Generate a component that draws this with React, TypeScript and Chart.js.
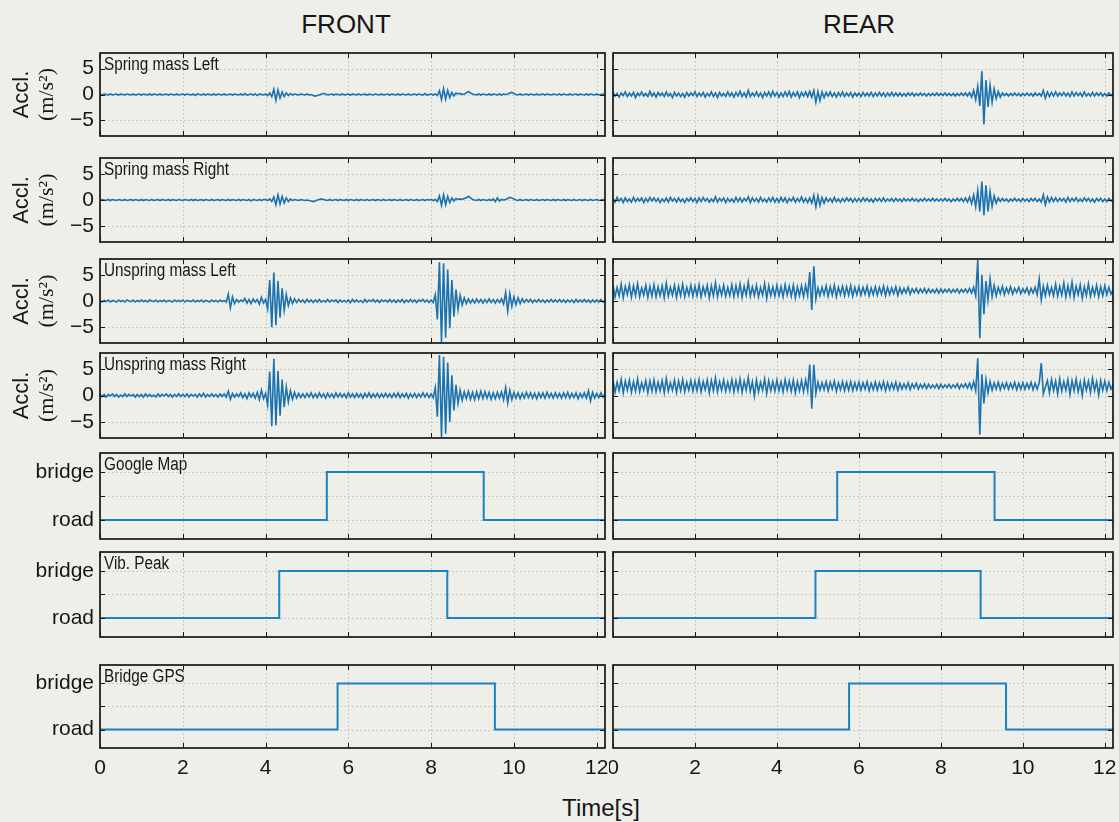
import React, { useEffect, useRef } from 'react';
import { Chart, registerables } from 'chart.js';

Chart.register(...registerables);

// ---------------- data ----------------
const SAMPLE_DT = 0.05; // s, sampling step of the acceleration traces
const X_MAX = 12.2;
const X_TICKS = [0, 2, 4, 6, 8, 10, 12];
const ACCEL_TICKS = [-5, 0, 5];
const STATE_TICKS = [0, 0.5, 1];
const STATE_NAMES = ['road', 'bridge'];

const FRONT_SPRING_LEFT = [
  0.1,-0.1,0.1,0,-0.1,0.1,-0.1,0,0.1,-0.1,0.1,0,-0.1,0.1,0,-0.1,0.1,-0.1,0,0.1,
  -0.1,0.1,0,-0.1,0.1,-0.1,0.1,0,-0.1,0.1,-0.1,0,0.1,-0.1,0.1,0,-0.1,0.1,-0.1,0,
  0.1,-0.1,0.1,0,-0.1,0.1,-0.2,0.1,0,-0.1,0.1,-0.1,0.1,0,-0.1,0.1,-0.1,0.1,0,-0.1,
  0.1,-0.1,0,0.1,-0.1,0.1,0,-0.1,0.1,-0.1,0.2,-0.1,0,0.1,-0.1,0.1,-0.2,0.1,0,-0.1,
  0.1,-0.2,0.3,-0.4,1.0,-1.1,0.9,-0.7,0.5,-0.4,0.3,-0.2,0.2,-0.1,0.1,0,-0.1,0.1,0,-0.1,
  0.1,-0.1,0,-0.2,-0.3,-0.2,-0.1,0.1,0.2,0.1,-0.1,0,0.1,-0.1,0.1,0,-0.1,0.1,-0.1,0,
  0.1,-0.1,0.1,0,-0.1,0.1,-0.1,0,0.1,-0.1,0.1,0,-0.1,0.1,0,-0.1,0.1,-0.1,0,0.1,
  -0.1,0.1,0,-0.1,0.1,-0.1,0.1,0,-0.1,0.1,-0.1,0,0.1,-0.1,0.1,0,-0.1,0.2,-0.1,0,
  0.1,-0.1,0.1,-0.2,0.7,-1.0,1.1,-0.9,0.8,-0.6,0.4,-0.3,0.3,0.1,0.2,0,0.1,0.3,0.6,0.3,
  0.1,0,-0.1,0.1,-0.1,0.1,0,-0.1,0.1,-0.1,0.1,0,-0.1,0.1,-0.1,0.1,0,0.1,0.3,0.4,
  0.2,0,-0.1,0.1,-0.1,0,0.1,-0.1,0.1,0,-0.1,0.1,-0.1,0,0.1,-0.1,0.1,0,-0.1,0.1,
  0,-0.1,0.1,-0.1,0.1,0,-0.1,0.1,-0.1,0,0.1,-0.1,0.1,0,-0.1,0.1,-0.1,0.1,0,-0.1,
  0.1,-0.1,0,0.1,0,
];

const FRONT_SPRING_RIGHT = [
  -0.1,0.1,0,-0.1,0.1,-0.1,0.1,0,-0.1,0.1,0,-0.1,0.1,-0.1,0,0.1,-0.1,0.1,0,-0.1,
  0.1,-0.1,0.1,0,-0.1,0.1,-0.1,0,0.1,-0.1,0.1,0,-0.1,0.1,-0.1,0.1,0,-0.1,0.1,0,
  -0.1,0.1,0,-0.1,0.1,-0.1,0.1,-0.1,0,0.1,-0.1,0.1,0,-0.1,0.1,-0.1,0,0.1,-0.1,0.1,
  0,-0.1,0.1,-0.1,0.1,0,-0.1,0.1,-0.1,0.1,0,-0.1,0.1,-0.2,0.1,0,-0.1,0.1,-0.1,0.1,
  0.1,-0.1,0.2,-0.3,0.6,-0.9,1.0,-0.8,0.7,-0.6,0.4,-0.3,0.2,-0.1,0.1,0,-0.1,0.1,0,-0.1,
  0,-0.1,-0.2,-0.3,-0.2,0,0.1,0.2,0.1,0,-0.1,0.1,-0.1,0,0.1,-0.1,0.1,0,-0.1,0.1,
  -0.1,0.1,0,-0.1,0.1,-0.1,0.1,0,-0.1,0.1,-0.1,0,0.1,-0.1,0.1,0,-0.1,0.1,-0.1,0,
  0.1,-0.1,0.1,0,-0.1,0.1,-0.1,0,0.1,-0.1,0.1,0,-0.1,0.1,-0.1,0,0.1,-0.1,0.1,0,
  0.1,-0.1,0.1,-0.3,0.8,-1.0,1.0,-0.9,0.7,-0.5,0.4,-0.2,0.3,0.1,0.2,0.1,0.3,0.4,0.7,0.4,
  0.1,0,-0.1,0.1,-0.1,0.1,0,-0.1,0.1,-0.1,0.2,-0.3,0.4,-0.2,0.1,0,0.1,0.3,0.5,0.4,
  0.2,0,-0.1,0.1,-0.1,0,0.1,-0.1,0.1,0,-0.1,0.1,-0.1,0,0.1,-0.1,0.1,0,-0.1,0.1,
  -0.1,0.1,0,-0.1,0.1,-0.1,0.1,0,-0.1,0.1,-0.1,0,0.1,-0.1,0.1,0,-0.1,0.1,-0.1,0,
  0.1,-0.1,0,0.1,0,
];

const FRONT_UNSPRING_LEFT = [
  0.2,-0.2,0.1,-0.1,0.2,-0.2,0.1,0,-0.2,0.2,-0.1,0.1,-0.2,0.2,0,-0.1,0.2,-0.2,0.1,-0.1,
  0.2,-0.1,0.1,-0.2,0.2,0,-0.1,0.2,-0.2,0.1,-0.1,0.2,-0.2,0.1,0,-0.2,0.2,-0.1,0.1,-0.1,
  0.2,-0.2,0.1,0,-0.1,0.2,-0.2,0.1,-0.1,0.2,-0.2,0.1,0,-0.2,0.2,-0.1,0.1,-0.2,0.2,-0.1,
  0.1,-0.2,1.3,-1.3,0.8,-0.5,0.3,-0.2,0.2,-0.1,0.5,-0.4,0.3,-0.5,0.4,-0.2,0.3,-0.6,0.7,-0.4,
  0.3,-1.5,4.0,-5.0,5.4,-4.6,3.8,-3.2,2.4,-1.8,1.2,-0.9,0.6,-0.5,0.4,-0.3,0.3,-0.2,0.2,-0.3,
  0.3,-0.2,0.2,-0.3,0.2,-0.2,0.3,-0.2,0.1,-0.2,0.3,-0.2,0.2,-0.1,0.2,-0.3,0.2,-0.2,0.1,-0.2,
  0.2,-0.3,0.3,-0.2,0.2,-0.2,0.1,-0.3,0.3,-0.2,0.2,-0.1,0.3,-0.2,0.2,-0.3,0.2,-0.1,0.2,-0.2,
  0.3,-0.2,0.2,-0.3,0.2,-0.2,0.3,-0.3,0.2,-0.2,0.3,-0.2,0.2,-0.3,0.2,-0.1,0.3,-0.2,0.2,-0.3,
  0.2,-0.3,1.2,-3.5,7.4,-7.8,7.2,-7.0,6.0,-5.2,4.0,-3.0,2.2,-1.6,1.1,-0.8,0.6,-0.5,0.4,-0.4,
  0.3,-0.4,0.4,-0.3,0.3,-0.4,0.3,-0.3,0.4,-0.3,0.3,-0.4,0.3,-0.3,0.4,-0.6,1.6,-1.9,1.4,-1.0,
  0.8,-0.7,0.6,-0.5,0.4,-0.3,0.3,-0.2,0.3,-0.3,0.2,-0.2,0.3,-0.2,0.2,-0.3,0.2,-0.2,0.3,-0.2,
  0.2,-0.2,0.3,-0.2,0.2,-0.3,0.2,-0.2,0.2,-0.3,0.3,-0.2,0.2,-0.2,0.3,-0.2,0.2,-0.3,0.2,-0.2,
  0.2,-0.2,0.3,-0.2,0.1,
];

const FRONT_UNSPRING_RIGHT = [
  0.3,-0.2,0.2,-0.3,0.2,-0.1,0.3,-0.2,0.2,-0.3,0.1,-0.2,0.3,-0.2,0.2,-0.1,0.2,-0.3,0.2,-0.2,
  0.2,-0.3,0.3,-0.2,0.2,-0.2,0.1,-0.3,0.3,-0.2,0.2,-0.1,0.3,-0.2,0.2,-0.3,0.2,-0.2,0.3,-0.2,
  0.2,-0.2,0.3,-0.3,0.2,-0.1,0.2,-0.3,0.3,-0.2,0.4,-0.3,0.2,-0.2,0.3,-0.2,0.2,-0.3,0.3,-0.2,
  0.3,-0.3,0.8,-0.7,0.4,-0.3,0.3,-0.2,0.5,-0.4,0.3,-0.6,0.5,-0.3,0.4,-0.5,0.6,-0.8,1.0,-0.6,
  0.4,-1.8,4.5,-5.8,6.9,-5.6,4.6,-3.8,3.0,-2.2,1.6,-1.2,0.9,-0.7,0.6,-0.5,0.4,-0.4,0.3,-0.4,
  0.4,-0.3,0.5,-0.4,0.3,-0.4,0.5,-0.3,0.3,-0.5,0.4,-0.3,0.3,-0.4,0.5,-0.3,0.4,-0.3,0.3,-0.4,
  0.5,-0.3,0.3,-0.4,0.4,-0.3,0.3,-0.5,0.4,-0.3,0.5,-0.4,0.3,-0.3,0.4,-0.4,0.3,-0.3,0.4,-0.3,
  0.3,-0.4,0.4,-0.3,0.5,-0.4,0.3,-0.3,0.4,-0.5,0.3,-0.3,0.4,-0.4,0.3,-0.3,0.5,-0.3,0.4,-0.4,
  0.3,-0.4,1.5,-4.0,7.6,-7.8,7.3,-7.2,6.2,-5.0,3.8,-2.8,2.0,-1.5,1.0,-0.9,0.7,-0.6,0.8,-0.7,
  0.6,-0.8,0.7,-0.6,0.8,-0.6,0.7,-0.5,0.6,-0.7,0.5,-0.6,0.6,-0.5,0.7,-0.8,1.5,-1.4,1.0,-0.8,
  0.6,-0.5,0.5,-0.6,0.4,-0.5,0.6,-0.4,0.5,-0.5,0.4,-0.6,0.5,-0.4,0.5,-0.5,0.6,-0.4,0.4,-0.5,
  0.5,-0.4,0.4,-0.5,0.5,-0.4,0.6,-0.5,0.4,-0.4,0.5,-0.6,0.4,-0.4,0.5,-0.5,0.9,-1.0,0.6,-0.5,
  0.4,-0.4,0.5,-0.3,0.3,
];

const REAR_SPRING_LEFT = [
  0.4,-0.3,0.2,-0.5,0.3,-0.2,0.5,-0.4,0.3,-0.3,0.4,-0.6,0.3,-0.2,0.5,-0.3,0.2,-0.4,0.6,-0.3,
  0.3,-0.5,0.4,-0.2,0.3,-0.4,0.5,-0.3,0.2,-0.6,0.4,-0.3,0.3,-0.4,0.2,-0.5,0.4,-0.3,0.3,-0.2,
  0.5,-0.4,0.3,-0.3,0.4,-0.5,0.2,-0.3,0.5,-0.4,0.3,-0.6,0.4,-0.3,0.2,-0.4,0.5,-0.3,0.3,-0.5,
  0.4,-0.3,0.6,-0.4,0.3,-0.5,0.8,-0.4,0.3,-0.3,0.5,-0.4,0.3,-0.6,0.4,-0.3,0.5,-0.4,0.6,-0.3,
  0.4,-0.5,0.3,-0.4,0.5,-0.3,0.6,-0.5,0.4,-0.3,0.5,-0.6,0.4,-0.3,0.5,-0.4,0.6,-0.5,0.8,-1.5,
  0.6,-1.2,0.5,-0.6,0.4,-0.3,0.5,-0.4,0.3,-0.5,0.4,-0.3,0.5,-0.4,0.3,-0.3,0.4,-0.5,0.3,-0.3,
  0.3,-0.4,0.4,-0.3,0.3,-0.3,0.4,-0.4,0.3,-0.3,0.4,-0.3,0.3,-0.4,0.3,-0.3,0.4,-0.3,0.3,-0.3,
  0.3,-0.3,0.2,-0.3,0.3,-0.2,0.3,-0.3,0.2,-0.2,0.3,-0.2,0.2,-0.3,0.2,-0.2,0.2,-0.2,0.3,-0.2,
  0.2,-0.2,0.3,-0.2,0.2,-0.2,0.2,-0.3,0.2,-0.2,0.3,-0.2,0.3,-0.3,0.4,-0.5,0.8,-1.0,1.6,-2.2,
  4.5,-5.8,2.8,-2.4,1.8,-1.5,1.1,-0.8,0.6,-0.5,0.3,-0.2,0.2,-0.3,0.2,-0.2,0.3,-0.2,0.2,-0.3,
  0.2,-0.2,0.3,-0.2,0.2,-0.3,0.3,-0.2,0.2,-0.3,0.8,-0.7,0.5,-0.4,0.4,-0.3,0.5,-0.3,0.3,-0.2,
  0.4,-0.3,0.3,-0.4,0.5,-0.3,0.4,-0.2,0.3,-0.4,0.5,-0.3,0.2,-0.3,0.4,-0.3,0.3,-0.2,0.3,-0.3,
  0.2,-0.3,0.3,-0.2,0.2,
];

const REAR_SPRING_RIGHT = [
  0.3,-0.4,0.5,-0.2,0.3,-0.5,0.4,-0.3,0.2,-0.4,0.5,-0.3,0.3,-0.2,0.4,-0.5,0.3,-0.3,0.5,-0.2,
  0.4,-0.3,0.3,-0.5,0.2,-0.3,0.4,-0.4,0.5,-0.2,0.3,-0.4,0.4,-0.3,0.2,-0.5,0.3,-0.2,0.4,-0.3,
  0.3,-0.5,0.4,-0.3,0.5,-0.2,0.3,-0.4,0.2,-0.3,0.6,-0.4,0.3,-0.2,0.4,-0.5,0.3,-0.3,0.2,-0.4,
  0.5,-0.3,0.4,-0.4,0.3,-0.2,0.6,-0.5,0.4,-0.3,0.3,-0.4,0.5,-0.3,0.2,-0.4,0.4,-0.3,0.5,-0.4,
  0.3,-0.4,0.5,-0.3,0.4,-0.5,0.3,-0.2,0.5,-0.4,0.3,-0.3,0.6,-0.4,0.3,-0.5,0.4,-0.6,0.9,-1.3,
  0.8,-1.0,0.5,-0.6,0.4,-0.3,0.3,-0.4,0.5,-0.3,0.2,-0.4,0.3,-0.3,0.4,-0.2,0.3,-0.4,0.3,-0.3,
  0.3,-0.3,0.4,-0.2,0.3,-0.3,0.2,-0.4,0.3,-0.2,0.3,-0.3,0.4,-0.3,0.2,-0.2,0.3,-0.3,0.3,-0.2,
  0.2,-0.3,0.3,-0.2,0.2,-0.2,0.3,-0.2,0.2,-0.3,0.2,-0.2,0.3,-0.2,0.2,-0.2,0.3,-0.2,0.2,-0.2,
  0.2,-0.2,0.3,-0.2,0.2,-0.3,0.2,-0.2,0.3,-0.2,0.3,-0.3,0.4,-0.4,0.6,-0.7,1.0,-1.3,1.8,-2.2,
  3.5,-2.9,2.8,-2.2,1.6,-1.2,0.8,-0.6,0.4,-0.3,0.3,-0.2,0.2,-0.3,0.2,-0.2,0.3,-0.2,0.2,-0.3,
  0.3,-0.2,0.2,-0.3,0.3,-0.2,0.3,-0.3,0.2,-0.4,1.0,-0.9,0.6,-0.4,0.5,-0.3,0.4,-0.3,0.3,-0.2,
  0.3,-0.4,0.5,-0.3,0.3,-0.2,0.4,-0.3,0.2,-0.3,0.4,-0.2,0.3,-0.3,0.2,-0.4,0.3,-0.2,0.3,-0.3,
  0.2,-0.3,0.3,-0.2,0.2,
];

const REAR_UNSPRING_LEFT = [
  3.0,0.8,2.6,1.0,3.2,0.6,2.8,1.2,3.1,0.7,2.9,1.0,3.3,0.8,2.5,1.1,3.0,0.7,2.8,0.9,
  3.1,0.8,2.7,1.0,2.9,0.6,3.4,0.9,2.6,1.1,3.0,0.7,2.8,1.0,3.2,0.8,2.6,1.1,3.0,0.9,
  2.8,1.0,3.1,0.8,2.7,1.2,3.0,0.6,2.9,1.0,3.5,0.8,2.7,1.1,3.0,0.9,2.6,1.0,3.1,0.8,
  2.9,1.0,3.2,0.7,2.8,1.1,3.6,0.9,2.7,1.0,3.0,0.8,2.6,1.1,3.3,0.5,2.9,1.0,2.7,0.9,
  3.0,1.0,2.7,0.8,3.1,1.1,2.8,0.9,3.0,0.6,2.7,1.0,2.9,0.8,3.0,1.0,5.5,-1.7,6.6,0.4,
  2.5,1.0,2.6,1.2,2.9,0.9,2.7,1.1,3.0,0.8,2.6,1.2,2.8,1.0,2.7,1.1,2.9,0.9,2.6,1.2,
  2.7,1.1,2.6,1.3,2.8,1.0,2.5,1.2,2.7,1.1,2.6,1.3,2.8,1.0,2.6,1.2,2.5,1.4,2.7,1.1,
  2.5,1.4,2.4,1.5,2.6,1.3,2.3,1.6,2.4,1.5,2.3,1.6,2.4,1.5,2.3,1.6,2.2,1.6,2.3,1.5,
  2.3,1.6,2.2,1.7,2.3,1.6,2.2,1.7,2.3,1.5,2.2,1.7,2.3,1.6,2.4,1.5,2.6,1.0,7.8,-7.1,
  5.0,-2.5,3.8,0.2,4.2,0.8,3.0,1.0,2.6,1.4,2.8,1.2,2.5,1.5,2.7,1.3,2.4,1.6,2.6,1.4,
  2.3,1.6,2.5,1.3,2.4,1.5,2.6,1.2,4.2,0.2,2.8,1.0,3.0,1.2,2.6,1.0,3.2,0.9,2.8,1.1,
  3.4,0.8,2.9,1.0,3.6,0.7,2.8,1.2,3.1,0.5,2.7,1.0,3.3,0.9,2.6,1.1,3.0,0.8,2.7,1.0,
  2.9,1.2,2.6,1.3,2.1,
];

const REAR_UNSPRING_RIGHT = [
  2.8,0.6,2.5,0.9,3.0,0.5,2.7,1.0,2.9,0.6,2.6,0.8,3.1,0.7,2.4,1.0,2.8,0.5,2.7,0.8,
  2.9,0.7,2.5,0.9,2.8,0.5,3.2,0.8,2.4,1.0,2.9,0.6,2.7,0.9,3.0,0.7,2.5,1.0,2.8,0.8,
  2.7,0.9,3.0,0.7,2.6,1.1,2.9,0.5,2.8,0.9,3.3,0.7,2.6,1.0,2.9,0.8,2.5,0.9,3.0,0.7,
  2.8,0.9,3.1,0.6,2.7,1.0,3.4,0.8,2.6,-0.1,2.9,0.7,2.5,1.0,3.1,0.4,2.8,0.9,2.6,0.8,
  2.9,0.9,2.6,0.7,3.0,1.0,2.7,0.8,2.9,0.5,2.6,0.9,2.8,0.7,2.9,0.9,5.8,-2.5,5.8,0.4,
  2.5,1.0,2.4,1.1,2.6,0.9,2.5,1.2,2.7,0.8,2.4,1.1,2.6,0.9,2.5,1.0,2.6,0.9,2.4,1.1,
  2.5,1.0,2.4,1.2,2.6,0.9,2.3,1.1,2.5,1.0,2.4,1.2,2.6,0.9,2.4,1.1,2.3,1.2,2.5,1.0,
  2.3,1.2,2.2,1.3,2.4,1.1,2.2,1.4,2.3,1.2,2.1,1.4,2.2,1.3,2.1,1.4,2.0,1.4,2.1,1.3,
  2.1,1.4,2.0,1.5,2.1,1.4,2.0,1.5,2.2,1.3,2.1,1.5,2.2,1.4,2.3,1.2,2.6,0.9,7.0,-7.4,
  4.0,-1.5,3.0,0.5,2.6,1.0,2.4,1.2,2.5,1.1,2.3,1.3,2.4,1.2,2.3,1.3,2.5,1.1,2.3,1.2,
  2.4,1.2,2.3,1.3,2.5,1.1,2.3,1.2,2.4,6.1,0.3,1.6,2.8,0.5,3.0,0.9,2.7,0.3,3.1,0.8,
  2.6,1.0,3.0,0.2,2.8,0.9,3.1,0.7,2.5,0.0,2.9,1.0,2.7,0.6,3.2,0.9,2.6,0.1,2.8,1.0,
  2.7,0.9,2.5,1.2,2.0,
];

// road (0) / bridge (1) state changes: times [s] and the state from that time on
const FRONT_GOOGLE_T = [0, 5.48, 9.27, X_MAX];
const FRONT_GOOGLE_S = [0, 1, 0, 0];
const FRONT_VIB_T = [0, 4.33, 8.39, X_MAX];
const FRONT_VIB_S = [0, 1, 0, 0];
const FRONT_GPS_T = [0, 5.74, 9.54, X_MAX];
const FRONT_GPS_S = [0, 1, 0, 0];
const REAR_GOOGLE_T = [0, 5.47, 9.31, X_MAX];
const REAR_GOOGLE_S = [0, 1, 0, 0];
const REAR_VIB_T = [0, 4.94, 8.97, X_MAX];
const REAR_VIB_S = [0, 1, 0, 0];
const REAR_GPS_T = [0, 5.76, 9.59, X_MAX];
const REAR_GPS_S = [0, 1, 0, 0];

const ROW_LABELS = ['Spring mass Left', 'Spring mass Right', 'Unspring mass Left', 'Unspring mass Right', 'Google Map', 'Vib. Peak', 'Bridge GPS'];

// ---------------- styling / layout ----------------
const PAPER = '#efefea';
const INK = '#161616';
const LINE_BLUE = '#1c82c2';
const TRACE_BLUE = '#1b72ad';
const SANS = '"Liberation Sans", Arial, sans-serif';
const SERIF = '"Liberation Serif", "Times New Roman", serif';

const ROWS = [
  { top: 53, bottom: 136 },
  { top: 158, bottom: 242 },
  { top: 259, bottom: 343 },
  { top: 353, bottom: 438 },
  { top: 453, bottom: 539 },
  { top: 552, bottom: 637 },
  { top: 665, bottom: 748 },
];
const COLS = [
  { canvasLeft: 0, canvasWidth: 612, plotLeft: 100, plotRight: 605, labels: true },
  { canvasLeft: 609, canvasWidth: 510, plotLeft: 613, plotRight: 1113, labels: false },
];

type Panel = {
  kind: 'accel' | 'state';
  label: string;
  row: number;
  col: number;
  values?: number[];
  times?: number[];
  states?: number[];
};

const PANELS: Panel[] = [
  { kind: 'accel', label: ROW_LABELS[0], row: 0, col: 0, values: FRONT_SPRING_LEFT },
  { kind: 'accel', label: ROW_LABELS[1], row: 1, col: 0, values: FRONT_SPRING_RIGHT },
  { kind: 'accel', label: ROW_LABELS[2], row: 2, col: 0, values: FRONT_UNSPRING_LEFT },
  { kind: 'accel', label: ROW_LABELS[3], row: 3, col: 0, values: FRONT_UNSPRING_RIGHT },
  { kind: 'state', label: ROW_LABELS[4], row: 4, col: 0, times: FRONT_GOOGLE_T, states: FRONT_GOOGLE_S },
  { kind: 'state', label: ROW_LABELS[5], row: 5, col: 0, times: FRONT_VIB_T, states: FRONT_VIB_S },
  { kind: 'state', label: ROW_LABELS[6], row: 6, col: 0, times: FRONT_GPS_T, states: FRONT_GPS_S },
  { kind: 'accel', label: '', row: 0, col: 1, values: REAR_SPRING_LEFT },
  { kind: 'accel', label: '', row: 1, col: 1, values: REAR_SPRING_RIGHT },
  { kind: 'accel', label: '', row: 2, col: 1, values: REAR_UNSPRING_LEFT },
  { kind: 'accel', label: '', row: 3, col: 1, values: REAR_UNSPRING_RIGHT },
  { kind: 'state', label: '', row: 4, col: 1, times: REAR_GOOGLE_T, states: REAR_GOOGLE_S },
  { kind: 'state', label: '', row: 5, col: 1, times: REAR_VIB_T, states: REAR_VIB_S },
  { kind: 'state', label: '', row: 6, col: 1, times: REAR_GPS_T, states: REAR_GPS_S },
];

const PAD_TOP = 12;

const framePlugin = {
  id: 'frame',
  beforeDatasetsDraw(chart: any) {
    const { ctx, chartArea: a, scales } = chart;
    ctx.save();
    ctx.strokeStyle = '#cbcbc6';
    ctx.lineWidth = 1;
    ctx.setLineDash([2, 2]);
    for (const t of scales.x.ticks) {
      const px = Math.round(scales.x.getPixelForValue(t.value)) + 0.5;
      if (px <= a.left + 2 || px >= a.right - 2) continue;
      ctx.beginPath(); ctx.moveTo(px, a.top); ctx.lineTo(px, a.bottom); ctx.stroke();
    }
    for (const t of scales.y.ticks) {
      const py = Math.round(scales.y.getPixelForValue(t.value)) + 0.5;
      ctx.beginPath(); ctx.moveTo(a.left, py); ctx.lineTo(a.right, py); ctx.stroke();
    }
    ctx.restore();
  },
  afterDatasetsDraw(chart: any, _a: any, opts: any) {
    const { ctx, chartArea: a, scales } = chart;
    ctx.save();
    ctx.strokeStyle = INK;
    ctx.lineWidth = 1;
    const tl = 5;
    for (const t of scales.x.ticks) {
      const px = Math.round(scales.x.getPixelForValue(t.value)) + 0.5;
      ctx.beginPath();
      ctx.moveTo(px, a.bottom); ctx.lineTo(px, a.bottom - tl);
      ctx.moveTo(px, a.top); ctx.lineTo(px, a.top + tl);
      ctx.stroke();
    }
    for (const t of scales.y.ticks) {
      const py = Math.round(scales.y.getPixelForValue(t.value)) + 0.5;
      ctx.beginPath();
      ctx.moveTo(a.left, py); ctx.lineTo(a.left + tl, py);
      ctx.moveTo(a.right, py); ctx.lineTo(a.right - tl, py);
      ctx.stroke();
    }
    ctx.lineWidth = 1.7;
    ctx.strokeRect(a.left, a.top, a.right - a.left, a.bottom - a.top);
    if (opts.label) {
      ctx.save();
      ctx.fillStyle = INK;
      ctx.font = `18px ${SANS}`;
      ctx.textBaseline = 'top';
      ctx.textAlign = 'left';
      ctx.translate(a.left + 4, a.top + 3);
      ctx.scale(0.85, 1);
      ctx.fillText(opts.label, 0, 0);
      ctx.restore();
    }
    if (opts.yTitle) {
      const cy = (a.top + a.bottom) / 2;
      ctx.fillStyle = INK;
      ctx.textAlign = 'center';
      ctx.textBaseline = 'middle';
      ctx.save();
      ctx.translate(22, cy);
      ctx.rotate(-Math.PI / 2);
      ctx.font = `22px ${SANS}`;
      ctx.fillText(opts.yTitle[0], 0, 0);
      ctx.restore();
      ctx.save();
      ctx.translate(47, cy);
      ctx.rotate(-Math.PI / 2);
      ctx.font = `22px ${SERIF}`;
      ctx.fillText(opts.yTitle[1], 0, 0);
      ctx.restore();
    }
    ctx.restore();
  },
};

function PanelChart({ p }: { p: Panel }) {
  const ref = useRef<HTMLCanvasElement>(null);
  const row = ROWS[p.row];
  const col = COLS[p.col];
  const isBottom = p.row === ROWS.length - 1;
  const xAxisH = isBottom ? 40 : 10;
  const canvasTop = row.top - PAD_TOP;
  const canvasH = row.bottom - row.top + PAD_TOP + xAxisH;
  const yAxisW = col.plotLeft - col.canvasLeft;
  const padRight = col.canvasLeft + col.canvasWidth - col.plotRight;

  useEffect(() => {
    if (!ref.current) return;
    let data: { x: number; y: number }[];
    if (p.kind === 'accel') {
      data = (p.values as number[]).map((v, i) => ({ x: i * SAMPLE_DT, y: v }));
    } else {
      data = (p.times as number[]).map((t, i) => ({ x: t, y: (p.states as number[])[i] }));
    }
    const yTicks = p.kind === 'accel' ? ACCEL_TICKS : STATE_TICKS;
    const chart = new Chart(ref.current, {
      type: 'line',
      data: {
        datasets: [
          {
            data,
            borderColor: p.kind === 'accel' ? TRACE_BLUE : LINE_BLUE,
            borderWidth: p.kind === 'accel' ? 1.6 : 2,
            pointRadius: 0,
            tension: 0,
            stepped: p.kind === 'state' ? true : false,
            fill: false,
          } as any,
        ],
      },
      options: {
        animation: false,
        responsive: false,
        events: [],
        layout: { autoPadding: false, padding: { top: PAD_TOP, right: padRight, left: 0, bottom: 0 } } as any,
        plugins: {
          legend: { display: false },
          tooltip: { enabled: false },
          frame: {
            label: p.label,
            yTitle: p.kind === 'accel' && col.labels ? ['Accl.', '(m/s\u00B2)'] : null,
          },
        } as any,
        scales: {
          x: {
            type: 'linear',
            min: 0,
            max: X_MAX,
            grid: { display: false, drawTicks: false },
            border: { display: false },
            afterBuildTicks: (s: any) => { s.ticks = X_TICKS.map((v) => ({ value: v })); },
            afterFit: (s: any) => { s.height = xAxisH; s.paddingLeft = 0; s.paddingRight = 0; },
            ticks: {
              display: isBottom,
              maxRotation: 0,
              autoSkip: false,
              padding: 8,
              color: INK,
              font: { family: SANS, size: 21 },
              callback: (v: any) => String(v),
            },
          },
          y: {
            type: 'linear',
            min: p.kind === 'accel' ? -8 : -0.4,
            max: p.kind === 'accel' ? 8 : 1.4,
            grid: { display: false, drawTicks: false },
            border: { display: false },
            afterBuildTicks: (s: any) => { s.ticks = yTicks.map((v) => ({ value: v })); },
            afterFit: (s: any) => { s.width = yAxisW; s.paddingTop = 0; s.paddingBottom = 0; },
            ticks: {
              display: col.labels,
              autoSkip: false,
              padding: 6,
              color: INK,
              font: { family: SANS, size: 21 },
              callback: (v: any) => {
                if (p.kind === 'state') return v === 0 || v === 1 ? STATE_NAMES[v] : '';
                return v < 0 ? '\u2212' + Math.abs(v) : String(v);
              },
            },
          },
        },
      },
      plugins: [framePlugin as any],
    });
    return () => chart.destroy();
  }, []);

  return (
    <canvas
      ref={ref}
      width={col.canvasWidth}
      height={canvasH}
      style={{ position: 'absolute', left: col.canvasLeft, top: canvasTop, width: col.canvasWidth, height: canvasH }}
    />
  );
}

export default function App() {
  useEffect(() => {
    document.body.style.margin = '0';
    document.body.style.background = PAPER;
  }, []);
  const text: React.CSSProperties = { position: 'absolute', fontFamily: SANS, color: INK, whiteSpace: 'nowrap', transform: 'translate(-50%, -50%)', lineHeight: 1 };
  return (
    <div style={{ position: 'absolute', left: 0, top: 0, width: 1119, height: 822, background: PAPER, overflow: 'hidden' }}>
      <div style={{ ...text, left: 346, top: 24, fontSize: 26 }}>FRONT</div>
      <div style={{ ...text, left: 859, top: 24, fontSize: 26 }}>REAR</div>
      {PANELS.map((p, i) => (
        <PanelChart key={i} p={p} />
      ))}
      <div style={{ ...text, left: 601, top: 808, fontSize: 24 }}>Time[s]</div>
    </div>
  );
}
